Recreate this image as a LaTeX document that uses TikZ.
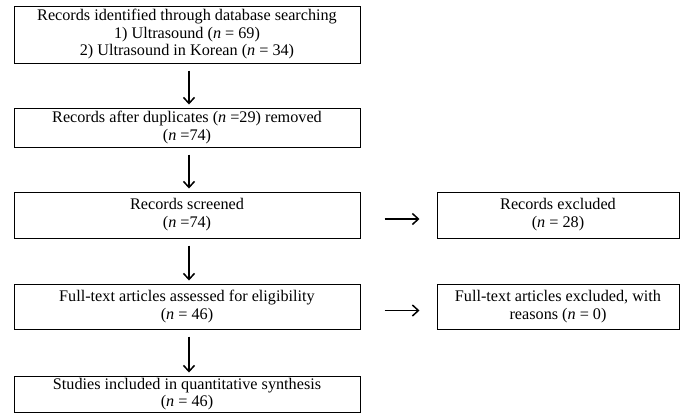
\documentclass[tikz,border=0pt]{standalone}
\usepackage{fontspec}
\setmainfont{Liberation Serif}
\usetikzlibrary{arrows.meta}
\tikzset{
  box/.style={draw=black, line width=1pt, rectangle, align=center, inner sep=0pt,
    font=\fontsize{16.2}{17.5}\selectfont},
  flow/.style={line width=1.6pt, -{Straight Barb[length=6pt,width=11pt,line width=1.5pt]}},
}
\begin{document}
\begin{tikzpicture}[x=1pt,y=-1pt]
\useasboundingbox (0,0) rectangle (686,413);
% main column
\node[box, minimum width=346pt, minimum height=57pt] (b1) at (187,34.5)
  {Records identified through database searching\\
   1) Ultrasound (\textit{n} = 69)\\
   2) Ultrasound in Korean (\textit{n} = 34)};
\node[box, minimum width=346pt, minimum height=39pt] (b2) at (187,127.5)
  {Records after duplicates (\textit{n} =29) removed\\(\textit{n} =74)};
\node[box, minimum width=346pt, minimum height=46pt] (b3) at (187,215)
  {\raisebox{3pt}{\begin{tabular}{@{}c@{}}Records screened\\(\textit{n} =74)\end{tabular}}};
\node[box, minimum width=346pt, minimum height=45pt] (b4) at (187,306.5)
  {Full-text articles assessed for eligibility\\(\textit{n} = 46)};
\node[box, minimum width=346pt, minimum height=36pt] (b5) at (187,394)
  {Studies included in quantitative synthesis\\(\textit{n} = 46)};
% exclusion column
\node[box, minimum width=242pt, minimum height=46pt] (r1) at (558,215)
  {\raisebox{3pt}{\begin{tabular}{@{}c@{}}Records excluded\\(\textit{n} = 28)\end{tabular}}};
\node[box, minimum width=242pt, minimum height=45pt] (r2) at (558,306.5)
  {Full-text articles excluded, with\\reasons (\textit{n} = 0)};
% downward arrows
\foreach \a/\b in {b1/b2, b2/b3, b3/b4, b4/b5}
  \draw[flow, shorten <=7pt, shorten >=3pt] ([xshift=2pt]\a.south) -- ([xshift=2pt]\b.north);
% sideways arrows
\draw[flow, shorten <=24pt, shorten >=17pt] ([yshift=-4pt]b3.east) -- ([yshift=-4pt]r1.west);
\draw[flow, shorten <=24pt, shorten >=17pt] ([yshift=-4pt]b4.east) -- ([yshift=-4pt]r2.west);
\end{tikzpicture}
\end{document}
